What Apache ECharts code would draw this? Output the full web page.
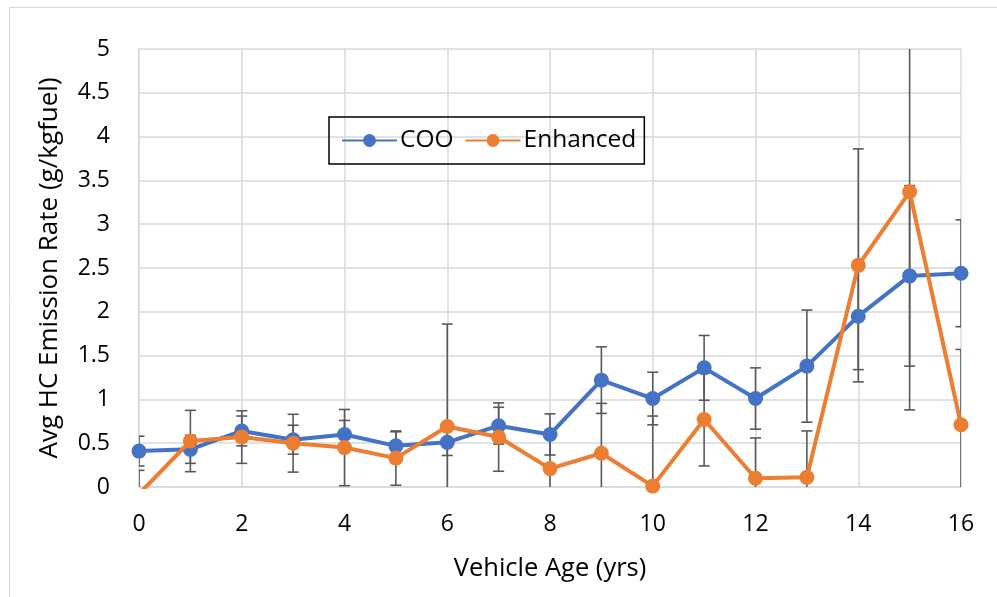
<!DOCTYPE html>
<html>
<head>
<meta charset="utf-8">
<script src="https://cdn.jsdelivr.net/npm/echarts@6/dist/echarts.min.js"></script>
<style>
html,body{margin:0;padding:0;background:#fff;}
#chart{width:997px;height:597px;}
</style>
</head>
<body>
<div id="chart"></div>
<script>
// ---- data ----
const ages = [0,1,2,3,4,5,6,7,8,9,10,11,12,13,14,15,16];
const cooValues = [0.41,0.43,0.64,0.54,0.60,0.47,0.51,0.70,0.60,1.22,1.01,1.36,1.01,1.38,1.95,2.41,2.44];
const cooErrors = [0.17,0.16,0.17,0.165,0.16,0.16,0.15,0.21,0.235,0.38,0.30,0.37,0.35,0.64,0.61,1.03,0.61];
const enhValues = [-0.08,0.525,0.57,0.50,0.45,0.33,0.69,0.57,0.21,0.385,0.01,0.77,0.10,0.11,2.53,3.37,0.71];
const enhErrors = [0.27,0.35,0.30,0.33,0.435,0.31,1.17,0.39,0.36,0.57,0.80,0.53,0.46,0.53,1.33,2.49,0.86];
const seriesNames = ['COO','Enhanced'];
const xAxisTitle = 'Vehicle Age (yrs)';
const yAxisTitle = 'Avg HC Emission Rate (g/kgfuel)';

const FONT = '"Open Sans", "Noto Sans", sans-serif';
const chart = echarts.init(document.getElementById('chart'));

function pairs(vals){ return ages.map((a,i)=>[a, vals[i]]); }
function errTriples(vals, errs){ return ages.map((a,i)=>[a, vals[i], errs[i]]); }

function errRender(params, api){
  const x = api.value(0), v = api.value(1), e = api.value(2);
  const top = api.coord([x, v + e]);
  const bot = api.coord([x, v - e]);
  const cw = 5.5;
  const style = {stroke:'#595959', lineWidth:1.6};
  return {
    type:'group',
    children:[
      {type:'line', shape:{x1:top[0],y1:top[1],x2:bot[0],y2:bot[1]}, style:style},
      {type:'line', shape:{x1:top[0]-cw,y1:top[1],x2:top[0]+cw,y2:top[1]}, style:style},
      {type:'line', shape:{x1:bot[0]-cw,y1:bot[1],x2:bot[0]+cw,y2:bot[1]}, style:style}
    ]
  };
}

const option = {
  animation:false,
  backgroundColor:'#fff',
  textStyle:{fontFamily:FONT},
  graphic:[{
    type:'rect', left:7, top:5, shape:{width:1200,height:800},
    style:{fill:'none', stroke:'#d9d9d9', lineWidth:1}, silent:true, z:-10
  }],
  grid:{left:139, right:36, top:49, bottom:110, containLabel:false},
  legend:{
    data:seriesNames,
    left:329, top:117,
    orient:'horizontal',
    borderColor:'#000', borderWidth:1.5,
    padding:[11,8,11,12],
    itemWidth:55, itemHeight:16, itemGap:11,
    textStyle:{fontFamily:FONT, fontSize:24.5, color:'#000', lineHeight:24, padding:[0,0,0,-2]}
  },
  xAxis:{
    type:'value', min:0, max:16, interval:2,
    name:xAxisTitle, nameLocation:'middle', nameGap:69,
    nameTextStyle:{fontFamily:FONT, fontSize:25.5, color:'#000'},
    axisLine:{show:true, lineStyle:{color:'#d9d9d9', width:1.5}},
    axisTick:{show:false},
    axisLabel:{fontFamily:FONT, fontSize:23, color:'#000', margin:26},
    splitLine:{show:true, lineStyle:{color:'#d9d9d9', width:1.5}}
  },
  yAxis:{
    type:'value', min:0, max:5, interval:0.5,
    name:yAxisTitle, nameLocation:'middle', nameGap:76,
    nameTextStyle:{fontFamily:FONT, fontSize:26, color:'#000'},
    axisLine:{show:true, lineStyle:{color:'#d9d9d9', width:1.5}},
    axisTick:{show:false},
    axisLabel:{fontFamily:FONT, fontSize:23, color:'#000', margin:29},
    splitLine:{show:true, lineStyle:{color:'#d9d9d9', width:1.5}}
  },
  series:[
    {
      type:'custom', name:'COO err', renderItem:errRender,
      data:errTriples(cooValues, cooErrors), clip:true, z:1, silent:true,
      encode:{x:0, y:1}
    },
    {
      type:'custom', name:'Enhanced err', renderItem:errRender,
      data:errTriples(enhValues, enhErrors), clip:true, z:1, silent:true,
      encode:{x:0, y:1}
    },
    {
      type:'line', name:seriesNames[0], data:pairs(cooValues),
      symbol:'circle', symbolSize:15, showAllSymbol:true,
      lineStyle:{color:'#4472C4', width:4},
      itemStyle:{color:'#4472C4'},
      clip:true, z:3
    },
    {
      type:'line', name:seriesNames[1], data:pairs(enhValues),
      symbol:'circle', symbolSize:15, showAllSymbol:true,
      lineStyle:{color:'#ED7D31', width:4},
      itemStyle:{color:'#ED7D31'},
      clip:true, z:4
    }
  ]
};
chart.setOption(option);
</script>
</body>
</html>
